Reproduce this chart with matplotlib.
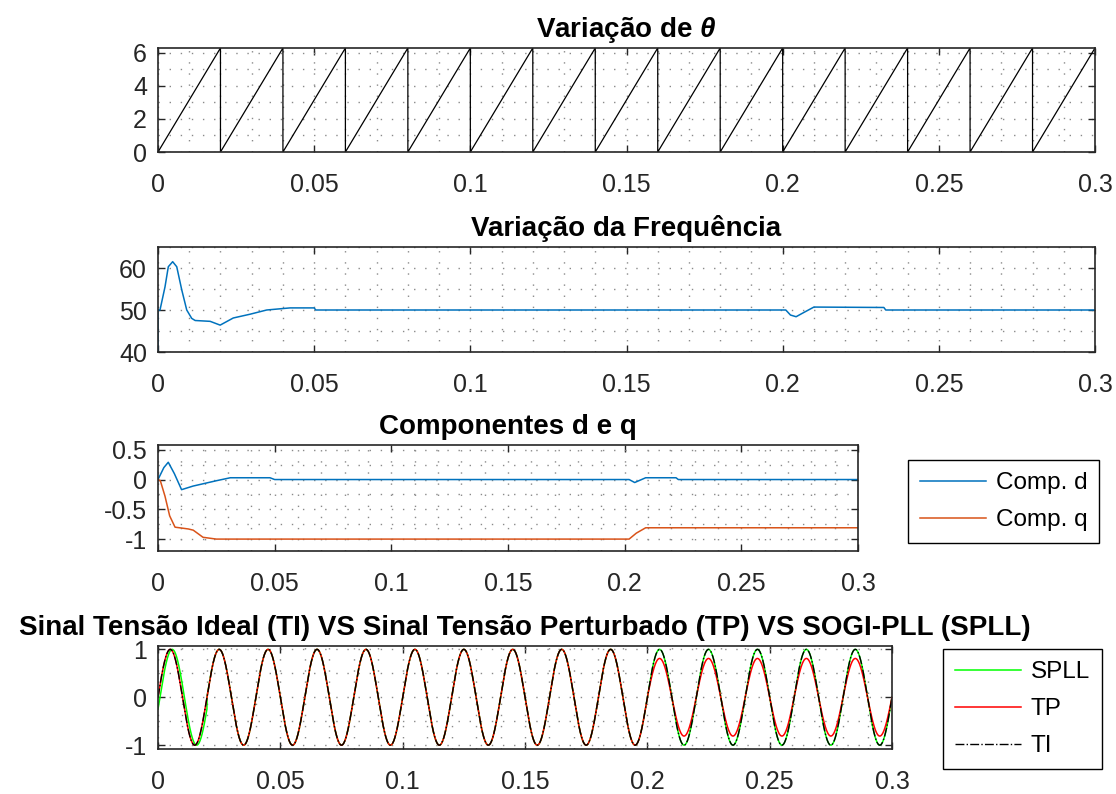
import numpy as np
import matplotlib
matplotlib.use('Agg')
import matplotlib.pyplot as plt
from matplotlib.ticker import MultipleLocator

plt.rcParams['font.family'] = ['Liberation Sans', 'DejaVu Sans']
plt.rcParams['mathtext.fontset'] = 'custom'
plt.rcParams['mathtext.it'] = 'Liberation Sans:italic:bold'

# ---- data ----
t_fim = 0.3
# theta sawtooth: reset instants and peak value (rad)
theta_resets = [0.00, 0.02, 0.04, 0.06, 0.08, 0.10, 0.12, 0.14, 0.16, 0.18,
                0.20, 0.22, 0.24, 0.26, 0.28, 0.30]
theta_pico = 6.28

# frequency (Hz)
freq_t = [0.0, 0.0, 0.00064, 0.00224, 0.0033, 0.0047, 0.0060, 0.0076, 0.0092, 0.0108,
          0.0119, 0.0167, 0.0199, 0.0241, 0.0295, 0.0348, 0.0423, 0.0500, 0.0505,
          0.2010, 0.2025, 0.2043, 0.2065, 0.2100, 0.2324, 0.2330, 0.3]
freq_v = [40.0, 50.0, 50.0, 55.5, 60.3, 61.5, 60.3, 54.8, 50.0, 48.0,
          47.5, 47.3, 46.4, 48.1, 49.0, 50.0, 50.5, 50.5, 50.0,
          50.0, 48.8, 48.4, 49.3, 50.7, 50.6, 50.0, 50.0]

# d and q components
d_t = [0.0, 0.0025, 0.0044, 0.0070, 0.0101, 0.0150, 0.0250, 0.0310, 0.0480, 0.0500,
       0.2019, 0.2043, 0.2090, 0.2220, 0.2230, 0.3]
d_v = [0.0, 0.20, 0.29, 0.10, -0.17, -0.11, -0.02, 0.03, 0.03, 0.0,
       0.0, -0.05, 0.03, 0.03, 0.0, 0.0]
q_t = [0.0, 0.0010, 0.0030, 0.0050, 0.0073, 0.0130, 0.0151, 0.0193, 0.0250,
       0.2019, 0.2050, 0.2090, 0.3]
q_v = [0.0, -0.02, -0.28, -0.61, -0.80, -0.83, -0.85, -0.97, -1.0,
       -1.0, -0.90, -0.81, -0.81]

# voltage signals: grid frequency, amplitudes before / after the sag at 0.2 s
f_rede = 50.0
t_sag = 0.2
amp_ti = [1.0, 1.0]
amp_tp = [1.0, 0.81]
amp_spll = [1.0, 1.0]
fase_spll = [-0.25, 0.0]   # rad, start-up lag of SOGI-PLL (first cycle only)

# ---- build signals ----
saw_x, saw_y = [], []
for a, b in zip(theta_resets[:-1], theta_resets[1:]):
    saw_x += [a, b]
    saw_y += [0.0, theta_pico]

t = np.linspace(0, t_fim, 6001)
w = 2 * np.pi * f_rede
ti = np.where(t < t_sag, amp_ti[0], amp_ti[1]) * np.sin(w * t)
tp = np.where(t < t_sag, amp_tp[0], amp_tp[1]) * np.sin(w * t)
fase = np.where(t < 0.02, fase_spll[0], fase_spll[1])
spll = np.where(t < t_sag, amp_spll[0], amp_spll[1]) * np.sin(w * t + fase)

# ---- figure ----
fig = plt.figure(figsize=(11.16, 7.94), dpi=100)
W, H = 1116, 794


def make_ax(x0, y0, x1, y1):
    return fig.add_axes([x0 / W, 1 - y1 / H, (x1 - x0) / W, (y1 - y0) / H])


ax1 = make_ax(158, 48, 1095, 152)
ax2 = make_ax(158, 247, 1095, 352)
ax3 = make_ax(158, 445, 858, 551)
ax4 = make_ax(158, 646, 892, 749)

blue = '#0072BD'
orange = '#D95319'

ax1.plot(saw_x, saw_y, color='black', lw=0.9)
ax1.set_ylim(0, 6.28)
ax1.set_yticks([0, 2, 4, 6])
ax1.yaxis.set_minor_locator(MultipleLocator(1))
ax1.set_title(r'Variação de $\theta$')

ax2.plot(freq_t, freq_v, color=blue, lw=1.1)
ax2.set_ylim(40, 65)
ax2.set_yticks([40, 50, 60])
ax2.yaxis.set_minor_locator(MultipleLocator(5))
ax2.set_title('Variação da Frequência')

ax3.plot(d_t, d_v, color=blue, lw=1.1, label='Comp. d')
ax3.plot(q_t, q_v, color=orange, lw=1.1, label='Comp. q')
ax3.set_ylim(-1.2, 0.58)
ax3.set_yticks([0.5, 0, -0.5, -1])
ax3.set_yticklabels(['0.5', '0', '-0.5', '-1'])
ax3.yaxis.set_minor_locator(MultipleLocator(0.25))
ax3.set_title('Componentes d e q')

ax4.plot(t, spll, color='#00FF00', lw=1.1, label='SPLL')
ax4.plot(t, tp, color='#FF0000', lw=1.1, label='TP')
ax4.plot(t, ti, color='black', lw=1.0, ls='-.', label='TI')
ax4.set_ylim(-1.08, 1.07)
ax4.set_yticks([1, 0, -1])
ax4.set_yticklabels(['1', '0', '-1'])
ax4.yaxis.set_minor_locator(MultipleLocator(0.5))
ax4.set_title('Sinal Tensão Ideal (TI) VS Sinal Tensão Perturbado (TP) VS SOGI-PLL (SPLL)')

leg_kw = dict(loc='upper left', bbox_transform=fig.transFigure, borderaxespad=0,
              handlelength=2.7, fancybox=False, edgecolor='black', framealpha=1,
              fontsize=17.5, borderpad=0.5, labelspacing=0.62, handletextpad=0.4)
l3 = ax3.legend(bbox_to_anchor=(908 / W, 1 - 460 / H), **leg_kw)
l4 = ax4.legend(bbox_to_anchor=(943 / W, 1 - 649 / H), **leg_kw)
for lg in (l3, l4):
    lg.get_frame().set_linewidth(1.0)

xt = [0, 0.05, 0.1, 0.15, 0.2, 0.25, 0.3]
xl = ['0', '0.05', '0.1', '0.15', '0.2', '0.25', '0.3']
for ax in (ax1, ax2, ax3, ax4):
    ax.set_xlim(0, t_fim)
    ax.set_xticks(xt)
    ax.set_xticklabels(xl)
    ax.xaxis.set_minor_locator(MultipleLocator(0.01))
    ax.grid(which='both', ls=(0, (1, 7)), color='#8a8a8a', lw=1.0)
    ax.tick_params(which='major', direction='in', top=True, right=True,
                   length=5, width=1, labelsize=18, colors='#262626')
    ax.tick_params(axis='x', pad=15)
    ax.tick_params(axis='y', pad=8)
    ax.tick_params(which='minor', length=0)
    ax.set_title(ax.get_title(), fontsize=20, fontweight='bold', pad=8)
    for s in ax.spines.values():
        s.set_linewidth(1.2)
        s.set_color('#262626')

fig.savefig('out.png', dpi=100)
